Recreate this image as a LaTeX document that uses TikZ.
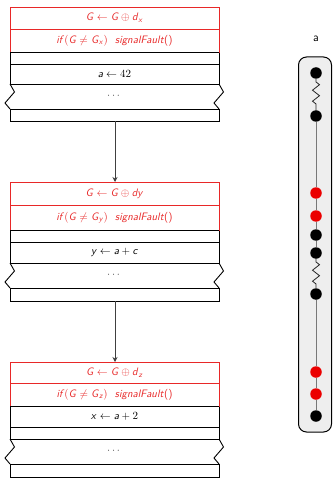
\documentclass[tikz,border=0pt]{standalone}
\usepackage{amsmath}
\usetikzlibrary{arrows.meta,decorations.pathmorphing,backgrounds,calc}
\definecolor{fred}{RGB}{232,40,40}
\definecolor{dred}{RGB}{235,0,0}
\definecolor{lgray}{RGB}{238,238,238}
\definecolor{lineg}{RGB}{120,120,120}
\newcommand\vv[1]{\textsf{\textit{#1}}}
\tikzset{
  rowbox/.style={draw=black, line width=0.9pt, minimum width=209pt, anchor=north west, inner sep=0pt, outer sep=0pt, font=\sffamily\fontsize{10.8}{12}\selectfont, fill=white},
  redrow/.style={rowbox, draw=fred, text=fred},
  txt/.style={font=\sffamily\fontsize{10.8}{12}\selectfont, inner sep=0pt},
  tear/.style={line width=0.9pt, draw=black},
  flow/.style={line width=0.9pt, draw=black!75, -{Stealth[length=5pt,width=5pt]}},
  dot/.style={circle, minimum size=11.5pt, inner sep=0pt, fill=black},
  rdot/.style={dot, fill=dred},
  vline/.style={draw=lineg, line width=1pt},
  zline/.style={draw=black!85, line width=0.8pt, decorate, decoration={zigzag, segment length=11pt, amplitude=3.5pt, pre length=3pt, post length=3pt}},
}
% wavy row: #1 top y, #2 bottom y, #3 name
\newcommand\tornrow[3]{%
  \draw[tear] (10,#1) -- (219,#1);
  \draw[tear] (10,#2) -- (219,#2);
  \draw[tear] (10,#1) -- ($(14.5,#1)+(0,{0.32*(#2-#1)})$) -- ($(5,#1)+(0,{0.76*(#2-#1)})$) -- (10,#2);
  \draw[tear] (219,#1) -- ($(223.5,#1)+(0,{0.32*(#2-#1)})$) -- ($(214,#1)+(0,{0.76*(#2-#1)})$) -- (219,#2);
  \node[txt, text=black!70] (#3) at (114.5,{(#1+#2)/2}) {$\cdots$};
}
\begin{document}
\begin{tikzpicture}[x=1pt,y=-1pt]
\useasboundingbox (0,0) rectangle (332,478);
% ---- block 1
\node[rowbox, minimum height=12pt] (b1e1) at (10,52) {};
\node[rowbox, minimum height=20pt] (b1a) at (10,64) {$\vv{a}\leftarrow 42$};
\tornrow{84}{109}{b1d}
\node[rowbox, minimum height=12pt] (b1e2) at (10,109) {};
\node[redrow, minimum height=22pt] (b1r1) at (10,7) {$\vv{G}\leftarrow\vv{G}\oplus\vv{d}_{\vv{x}}$};
\node[redrow, minimum height=23pt] (b1r2) at (10,29) {\vv{if}$(\vv{G}\neq\vv{G}_{\vv{x}})$\ \ \vv{signalFault}()};
\draw[tear] (b1r2.south west) -- (b1r2.south east);
% ---- block 2
\node[rowbox, minimum height=12pt] (b2e1) at (10,230) {};
\node[rowbox, minimum height=21pt] (b2a) at (10,242) {$\vv{y}\leftarrow\vv{a}+\vv{c}$};
\tornrow{263}{288}{b2d}
\node[rowbox, minimum height=13pt] (b2e2) at (10,288) {};
\node[redrow, minimum height=23.5pt] (b2r1) at (10,182) {$\vv{G}\leftarrow\vv{G}\oplus\vv{dy}$};
\node[redrow, minimum height=24.5pt] (b2r2) at (10,205.5) {\vv{if}$(\vv{G}\neq\vv{G}_{\vv{y}})$\ \ \vv{signalFault}()};
\draw[tear] (b2r2.south west) -- (b2r2.south east);
% ---- block 3
\node[rowbox, minimum height=21pt] (b3a) at (10,406) {$\vv{x}\leftarrow\vv{a}+2$};
\node[rowbox, minimum height=12pt] (b3e1) at (10,427) {};
\tornrow{439}{464}{b3d}
\node[rowbox, minimum height=13pt] (b3e2) at (10,464) {};
\node[redrow, minimum height=21pt] (b3r1) at (10,362) {$\vv{G}\leftarrow\vv{G}\oplus\vv{d}_{\vv{z}}$};
\node[redrow, minimum height=23pt] (b3r2) at (10,383) {\vv{if}$(\vv{G}\neq\vv{G}_{\vv{z}})$\ \ \vv{signalFault}()};
\draw[tear] (b3r2.south west) -- (b3r2.south east);
% ---- arrows
\coordinate (a1s) at (115,121);
\coordinate (a1e) at (115,182);
\coordinate (a2s) at (115,301);
\coordinate (a2e) at (115,362);
\draw[flow] (a1s) -- (a1e);
\draw[flow] (a2s) -- (a2e);
% ---- right panel
\node[txt, font=\sffamily\fontsize{12}{13}\selectfont] (lbl) at (316,39) {a};
\node[draw=black, line width=1pt, rounded corners=8pt, fill=lgray, minimum width=33pt, minimum height=375pt, inner sep=0pt] (panel) at (315,244.5) {};
\node[dot] (d1) at (316,73) {};
\node[dot] (d2) at (316,116) {};
\node[rdot] (d3) at (316,193) {};
\node[rdot] (d4) at (316,216) {};
\node[dot] (d5) at (316,235) {};
\node[dot] (d6) at (316,253) {};
\node[dot] (d7) at (316,294) {};
\node[rdot] (d8) at (316,372) {};
\node[rdot] (d9) at (316,394) {};
\node[dot] (d10) at (316,416) {};
\draw[zline] (d1) -- (d2);
\draw[vline] (d2) -- (d3);
\draw[vline] (d3) -- (d4);
\draw[vline] (d4) -- (d5);
\draw[vline] (d5) -- (d6);
\draw[zline] (d6) -- (d7);
\draw[vline] (d7) -- (d8);
\draw[vline] (d8) -- (d9);
\draw[vline] (d9) -- (d10);
\end{tikzpicture}
\end{document}
